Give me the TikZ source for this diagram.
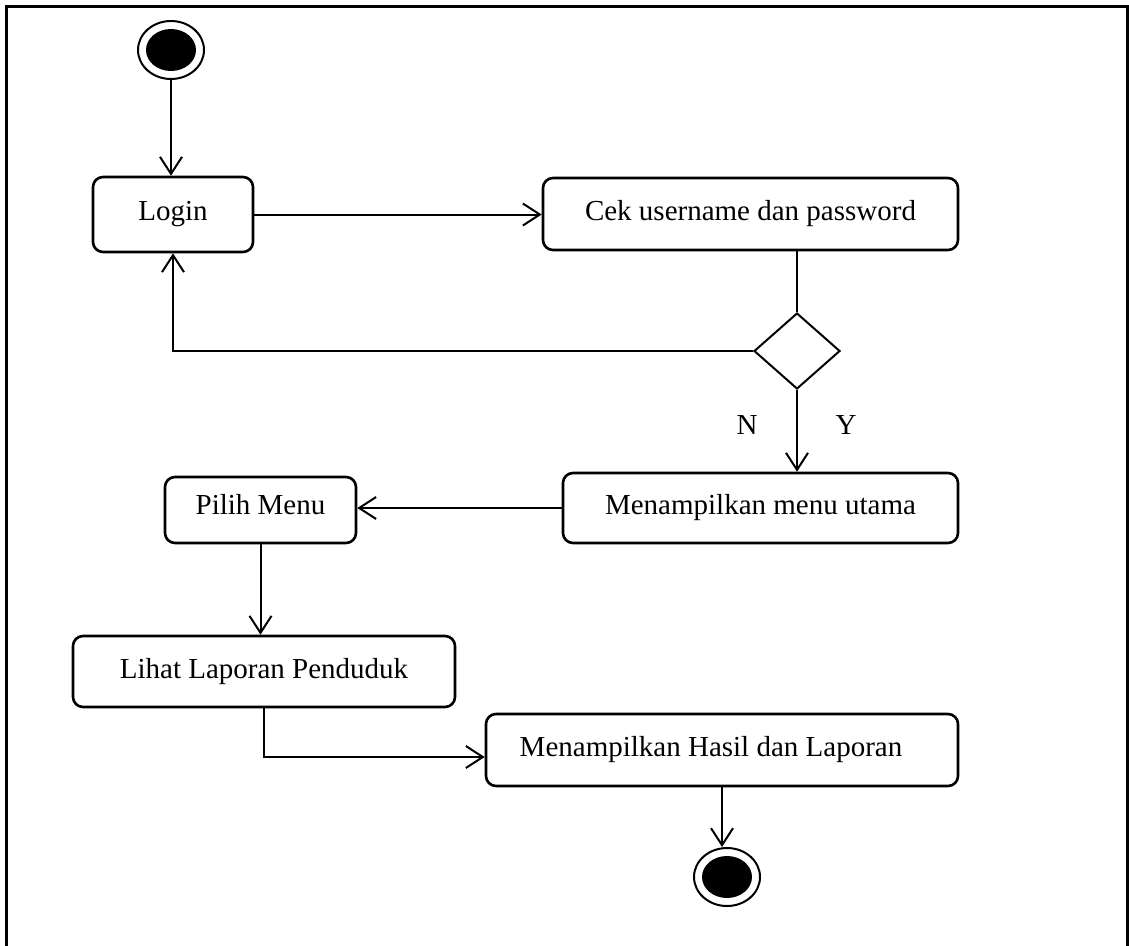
\documentclass[tikz,border=0pt]{standalone}
\usepackage{fontspec}
\setmainfont{Liberation Serif}
\usetikzlibrary{shapes.geometric,arrows.meta}
\begin{document}
\begin{tikzpicture}[x=1pt,y=-1pt,
  every node/.style={font=\fontsize{29}{34}\selectfont},
  act/.style={draw,rectangle,rounded corners=10pt,line width=2.6pt,inner sep=0pt},
  dec/.style={draw,diamond,line width=2pt,inner sep=0pt},
  term/.style={draw,ellipse,line width=2pt,inner sep=0pt,minimum width=66pt,minimum height=58pt},
  conn/.style={line width=2pt},
  arr/.style={conn,-{Straight Barb[length=17pt,width=22pt,line width=2pt]}}]
\useasboundingbox (0,0) rectangle (1129,945);
\draw[line width=3pt] (6,950) -- (6,6) -- (1127,6) -- (1127,950);
\node[term] (start) at (171,50) {};
\fill (start.center) ellipse [x radius=25pt, y radius=21pt];
\node[act,minimum width=160pt,minimum height=75pt] (login) at (173,214.5) {Login};
\node[act,minimum width=415pt,minimum height=72pt] (cek) at (750.5,214) {Cek username dan password};
\node[dec,minimum width=86pt,minimum height=76pt] (dia) at (797,351) {};
\node[act,minimum width=395pt,minimum height=70pt] (menu) at (760.5,508) {Menampilkan menu utama};
\node[act,minimum width=191pt,minimum height=66pt,label={[yshift=5pt]center:Pilih Menu}] (pilih) at (260.5,510) {};
\node[act,minimum width=382pt,minimum height=71pt] (lihat) at (264,671.5) {Lihat Laporan Penduduk};
\node[act,minimum width=472pt,minimum height=72pt,label={[xshift=-11pt]center:Menampilkan Hasil dan Laporan}] (hasil) at (722,750) {};
\node[term] (end) at (727,877) {};
\fill (end.center) ellipse [x radius=25pt, y radius=21pt];
\node (n) at (747,425) {N};
\node (y) at (846,425) {Y};
\draw[arr] (start.south) -- (start.south |- login.north);
\draw[arr] (login.east) -- (login.east -| cek.west);
\draw[conn] (cek.south -| dia.north) -- (dia.north);
\draw[arr] (dia.west) -| (login.south);
\draw[arr] (dia.south) -- (dia.south |- menu.north);
\draw[arr] (menu.west) -- (menu.west -| pilih.east);
\draw[arr] (pilih.south) -- (pilih.south |- lihat.north);
\draw[arr] (lihat.south) |- ([yshift=-7pt]hasil.west);
\draw[arr] (hasil.south) -- (hasil.south |- end.north);
\end{tikzpicture}
\end{document}
